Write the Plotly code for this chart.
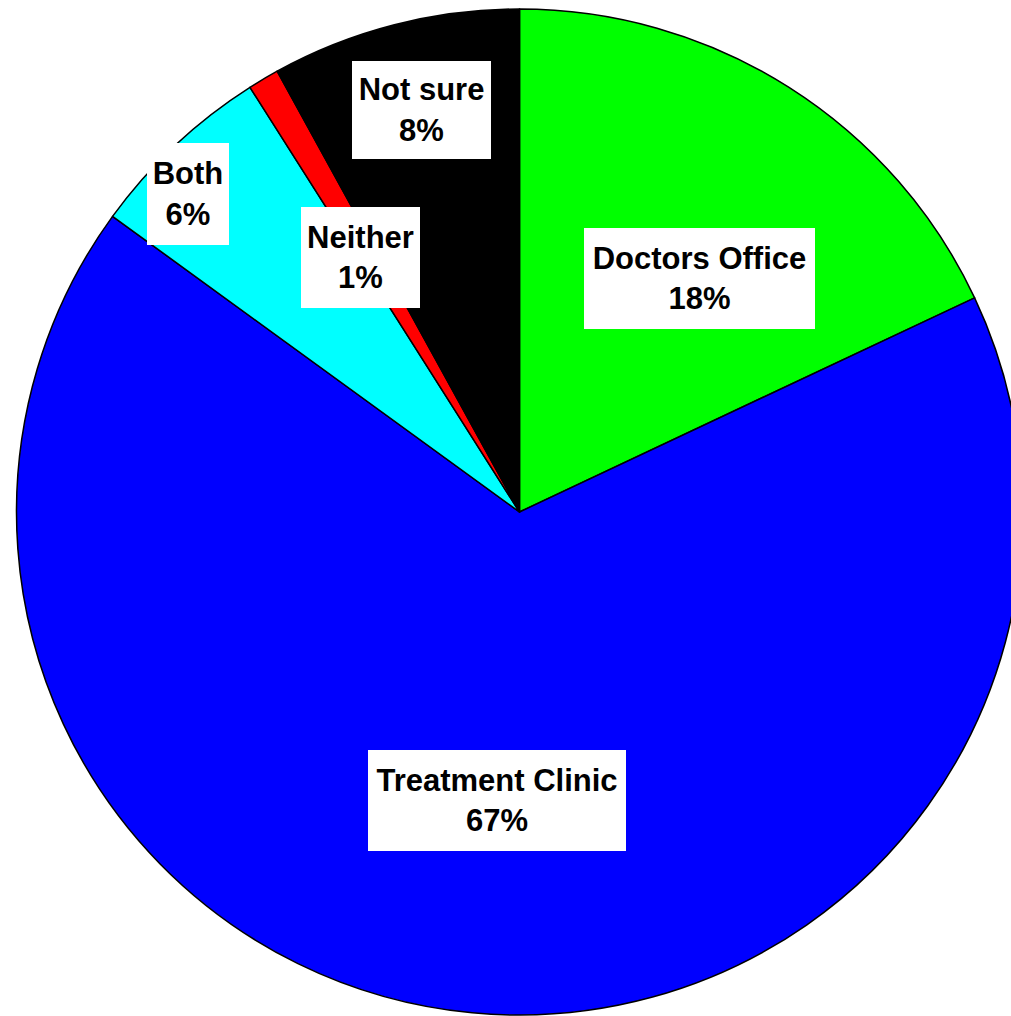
import plotly.graph_objects as go

# Where patients were referred / preferred to be treated
categories = ["Doctors Office", "Treatment Clinic", "Both", "Neither", "Not sure"]
shares = [18, 67, 6, 1, 8]
slice_colors = ["#00FF00", "#0000FF", "#00FFFF", "#FF0000", "#000000"]

# Figure geometry (pixels)
FIG_W, FIG_H = 1039, 1016
M_T, M_B = 9, 1
PLOT_H = FIG_H - M_T - M_B

# Label box centres and sizes in pixels (styling only)
label_boxes = {
    "Doctors Office": (699.5, 278.5, 231, 101),
    "Treatment Clinic": (497.0, 800.5, 258, 101),
    "Both": (188.0, 194.0, 82, 102),
    "Neither": (360.5, 257.5, 119, 101),
    "Not sure": (421.5, 110.5, 139, 98),
}


def to_paper(px, py):
    return px / FIG_W, 1 - (py - M_T) / PLOT_H


fig = go.Figure(
    go.Pie(
        labels=categories,
        values=shares,
        sort=False,
        direction="clockwise",
        rotation=0,
        marker=dict(colors=slice_colors, line=dict(color="#000000", width=1.5)),
        textinfo="none",
        hoverinfo="label+percent",
        showlegend=False,
    )
)

for name, val in zip(categories, shares):
    cx, cy, bw, bh = label_boxes[name]
    x, y = to_paper(cx, cy)
    fig.add_annotation(
        x=x, y=y, xref="paper", yref="paper",
        xanchor="center", yanchor="middle",
        text=f"<b>{name}<br>{val}%</b>",
        showarrow=False,
        align="center",
        font=dict(family="Liberation Sans, Arial, sans-serif", size=31, color="#000000"),
        bgcolor="#FFFFFF",
        borderwidth=0,
        borderpad=0,
        width=bw, height=bh,
        valign="middle",
    )

fig.update_layout(
    width=FIG_W,
    height=FIG_H,
    margin=dict(l=0, r=0, t=M_T, b=M_B, autoexpand=False),
    paper_bgcolor="#FFFFFF",
    plot_bgcolor="#FFFFFF",
)

fig.write_html("out.html")
